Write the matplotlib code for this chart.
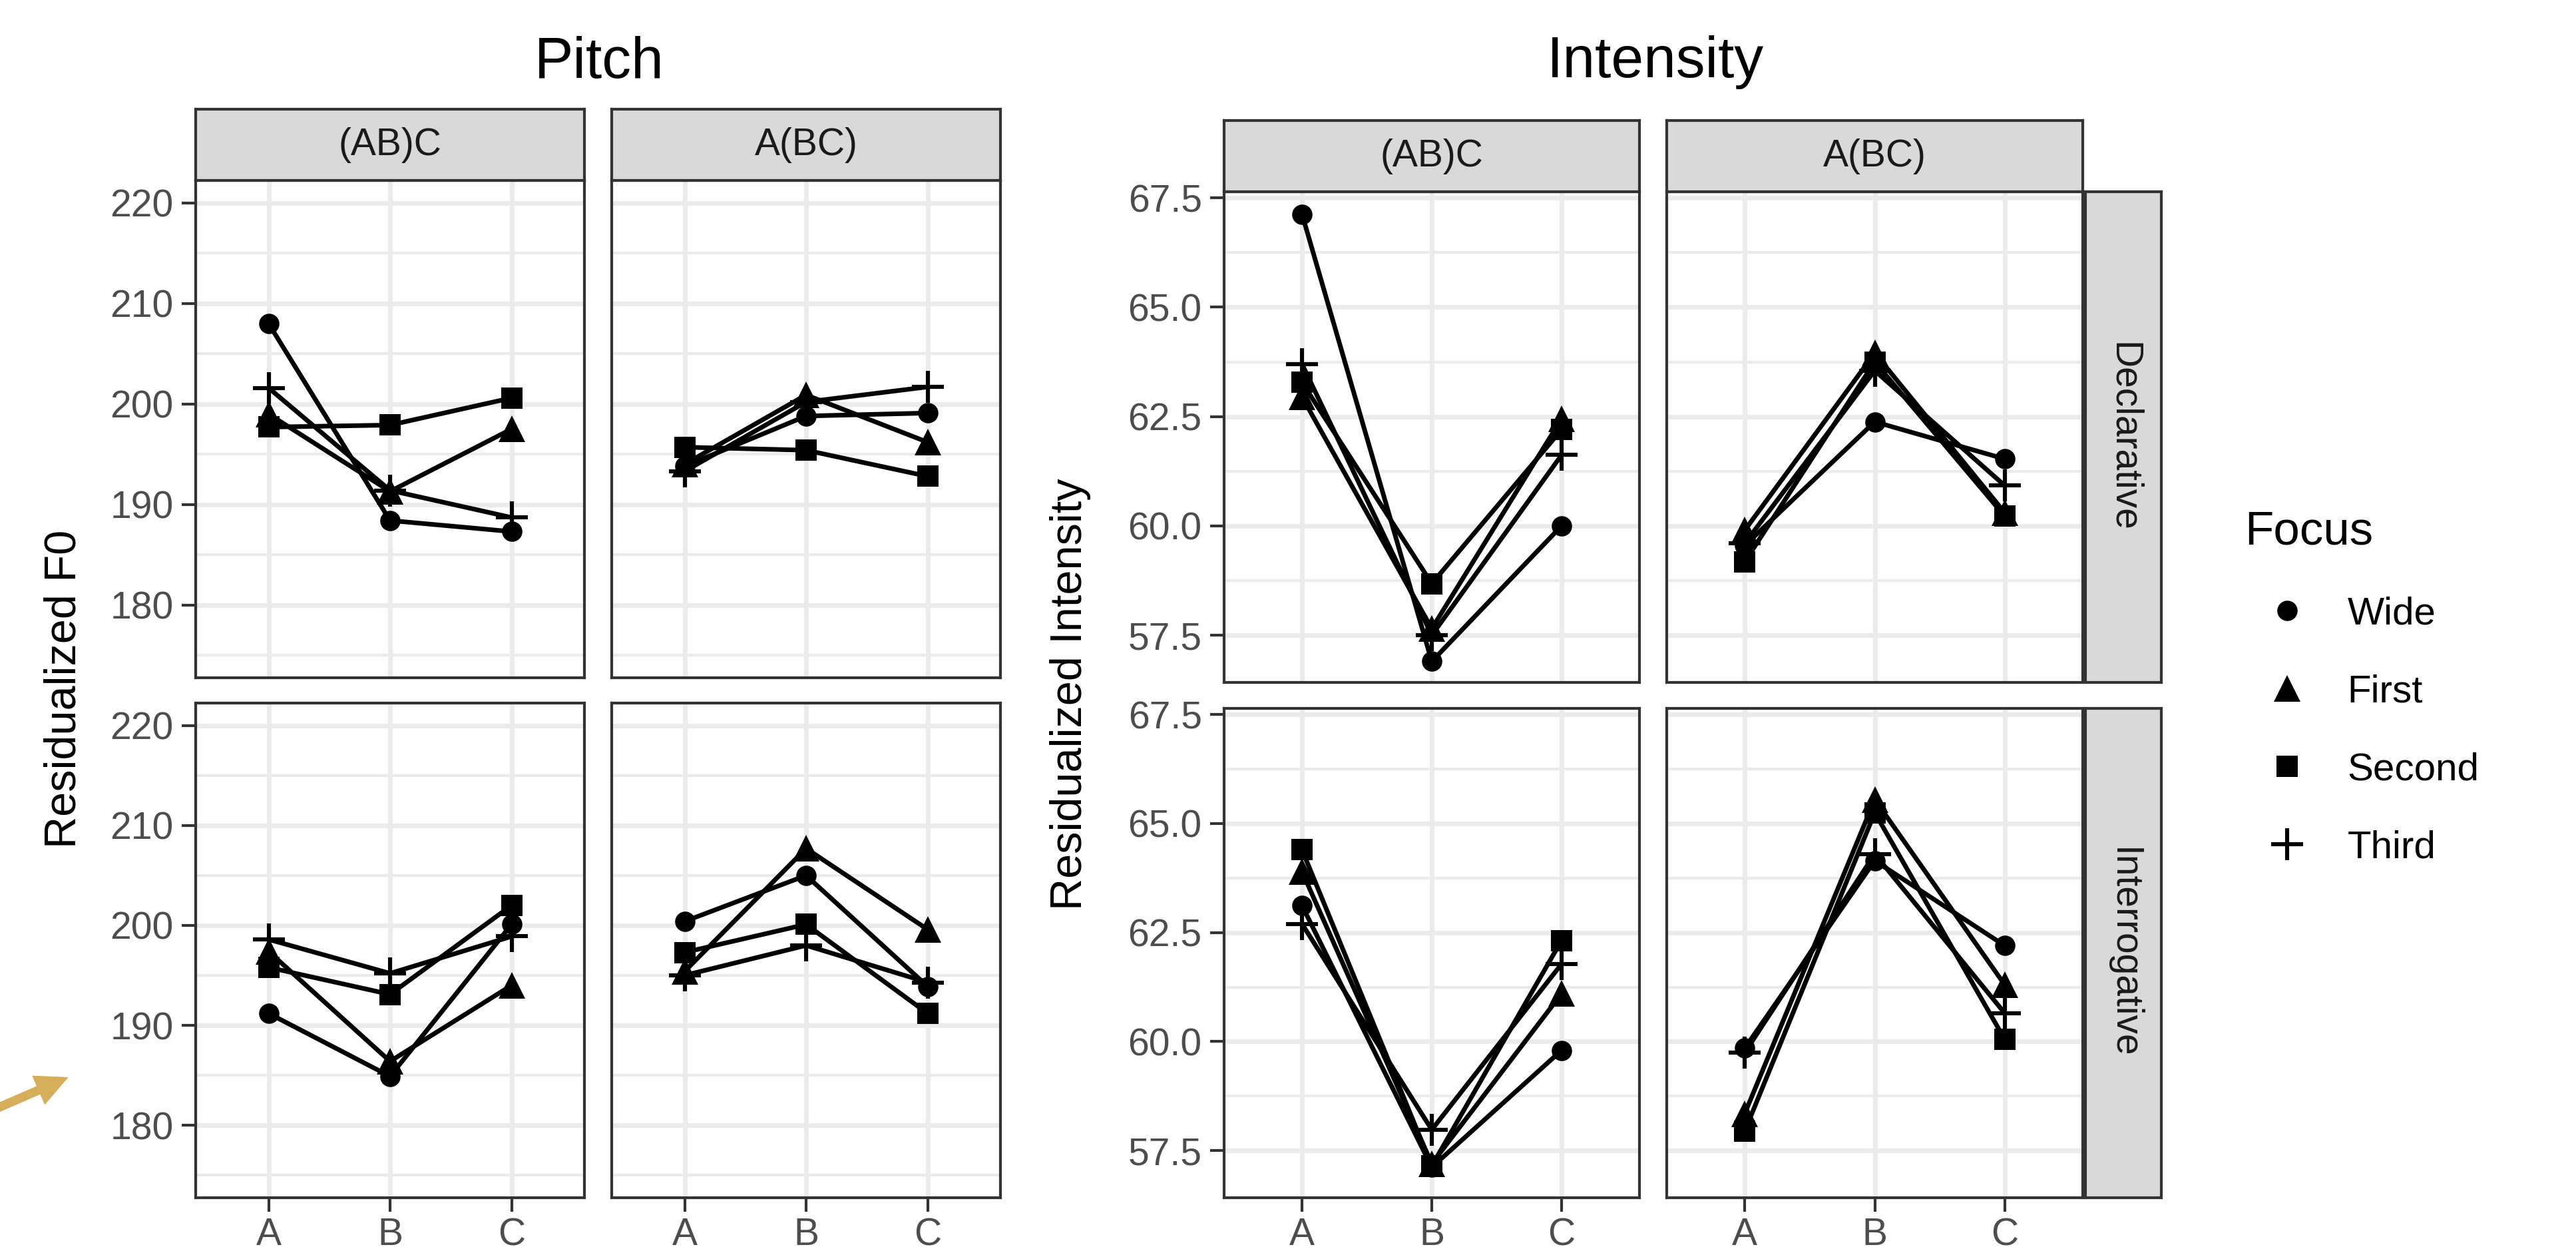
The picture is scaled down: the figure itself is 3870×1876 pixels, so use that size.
import matplotlib.pyplot as plt
from matplotlib.lines import Line2D
from matplotlib.ticker import MultipleLocator

plt.rcParams['font.family'] = ['Liberation Sans', 'DejaVu Sans']

W, H = 3870, 1876

positions = ['A', 'B', 'C']
structures = ['(AB)C', 'A(BC)']
sentence_types = ['Declarative', 'Interrogative']
focus_levels = ['Wide', 'First', 'Second', 'Third']

# residualized F0, values at A, B, C for each focus condition
pitch_decl_abc = {'Wide': [208.0, 188.4, 187.3], 'First': [199.0, 191.3, 197.5],
                  'Second': [197.7, 197.9, 200.6], 'Third': [201.6, 191.4, 188.7]}
pitch_decl_bc = {'Wide': [193.8, 198.8, 199.1], 'First': [194.0, 200.9, 196.2],
                 'Second': [195.7, 195.4, 192.8], 'Third': [193.3, 200.2, 201.7]}
pitch_int_abc = {'Wide': [191.2, 184.9, 200.1], 'First': [197.4, 186.4, 194.0],
                 'Second': [195.8, 193.1, 202.0], 'Third': [198.6, 195.2, 198.9]}
pitch_int_bc = {'Wide': [200.4, 205.0, 193.9], 'First': [195.4, 207.7, 199.6],
                'Second': [197.3, 200.1, 191.2], 'Third': [195.0, 198.0, 194.3]}

# residualized intensity
inten_decl_abc = {'Wide': [67.13, 56.90, 60.00], 'First': [62.95, 57.65, 62.45],
                  'Second': [63.28, 58.68, 62.20], 'Third': [63.70, 57.50, 61.62]}
inten_decl_bc = {'Wide': [59.55, 62.38, 61.53], 'First': [59.90, 63.95, 60.30],
                 'Second': [59.18, 63.75, 60.22], 'Third': [59.60, 63.55, 60.92]}
inten_int_abc = {'Wide': [63.12, 57.12, 59.80], 'First': [63.90, 57.20, 61.10],
                 'Second': [64.40, 57.15, 62.32], 'Third': [62.70, 57.98, 61.78]}
inten_int_bc = {'Wide': [59.85, 64.15, 62.20], 'First': [58.35, 65.55, 61.30],
                'Second': [57.95, 65.25, 60.05], 'Third': [59.75, 64.30, 60.65]}

pitch = [[pitch_decl_abc, pitch_decl_bc], [pitch_int_abc, pitch_int_bc]]
intensity = [[inten_decl_abc, inten_decl_bc], [inten_int_abc, inten_int_bc]]

marker_style = {
    'Wide': dict(marker='o', ms=22, mew=0),
    'First': dict(marker='^', ms=29, mew=0),
    'Second': dict(marker='s', ms=23, mew=0),
    'Third': dict(marker='+', ms=34, mew=4.4),
}

DARK = '#333333'
GRID = '#EBEBEB'
STRIP = '#D9D9D9'
TICK_FS = 41

fig = plt.figure(figsize=(W / 100, H / 100), dpi=100)


def px_rect(x0, y0, x1, y1):
    return [x0 / W, 1 - y1 / H, (x1 - x0) / W, (y1 - y0) / H]


def strip(x0, y0, x1, y1, label, rot=0):
    s = fig.add_axes(px_rect(x0, y0, x1, y1))
    s.set_facecolor(STRIP)
    s.set_xticks([])
    s.set_yticks([])
    for sp in s.spines.values():
        sp.set_color(DARK)
        sp.set_linewidth(3)
    s.text(0.5, 0.5, label, transform=s.transAxes, ha='center', va='center',
           fontsize=TICK_FS, color='#1A1A1A', rotation=rot)


def panel(rect, data, ylim, major, minor, show_x, show_y):
    ax = fig.add_axes(px_rect(*rect))
    xs = range(1, len(positions) + 1)
    for f in focus_levels:
        ax.plot(xs, data[f], color='black', lw=5, zorder=3,
                markerfacecolor='black', markeredgecolor='black', **marker_style[f])
    ax.set_xlim(0.4, 3.6)
    ax.set_ylim(*ylim)
    ax.set_xticks(list(xs))
    ax.set_xticklabels(positions if show_x else [])
    ax.yaxis.set_major_locator(MultipleLocator(major))
    ax.yaxis.set_minor_locator(MultipleLocator(minor))
    if not show_y:
        ax.set_yticklabels([])
    ax.grid(True, which='major', color=GRID, lw=5, zorder=0)
    ax.grid(True, which='minor', axis='y', color=GRID, lw=3, zorder=0)
    ax.set_axisbelow(True)
    ax.tick_params(which='minor', length=0)
    ax.tick_params(axis='x', length=15 if show_x else 0, width=3, color=DARK,
                   labelsize=TICK_FS, labelcolor='#4D4D4D', pad=6)
    ax.tick_params(axis='y', which='major', length=15 if show_y else 0, width=3,
                   color=DARK, labelsize=TICK_FS, labelcolor='#4D4D4D', pad=9)
    for sp in ax.spines.values():
        sp.set_color(DARK)
        sp.set_linewidth(3)
    return ax


# pitch block
pitch_cols = [(294, 878), (919, 1503)]
pitch_rows = [(271, 1018), (1056, 1799)]
for r in range(2):
    for c in range(2):
        panel((pitch_cols[c][0], pitch_rows[r][0], pitch_cols[c][1], pitch_rows[r][1]),
              pitch[r][c], (172.75, 222.25), 10, 5, r == 1, c == 0)
for c in range(2):
    strip(pitch_cols[c][0], 164, pitch_cols[c][1], 271, structures[c])
fig.text(900 / W, 1 - 94 / H, 'Pitch', ha='center', va='center', fontsize=63)
fig.text(96 / W, 1 - 1035 / H, 'Residualized F0', ha='center', va='center',
         rotation=90, fontsize=48)

# intensity block
int_cols = [(1839, 2463), (2504, 3129)]
int_rows = [(288, 1025), (1064, 1799)]
for r in range(2):
    for c in range(2):
        panel((int_cols[c][0], int_rows[r][0], int_cols[c][1], int_rows[r][1]),
              intensity[r][c], (56.42, 67.64), 2.5, 1.25, r == 1, c == 0)
for c in range(2):
    strip(int_cols[c][0], 181, int_cols[c][1], 288, structures[c])
for r in range(2):
    strip(3133, int_rows[r][0], 3247, int_rows[r][1], sentence_types[r], rot=-90)
fig.text(2487 / W, 1 - 94 / H, 'Intensity', ha='center', va='center', fontsize=63)
fig.text(1608 / W, 1 - 1043 / H, 'Residualized Intensity', ha='center', va='center',
         rotation=90, fontsize=48)

# legend
handles = [Line2D([], [], color='black', linestyle='none',
                  markerfacecolor='black', markeredgecolor='black', **marker_style[f])
           for f in focus_levels]
fig.legend(handles, focus_levels, title='Focus', loc='upper left',
           bbox_to_anchor=(3372 / W, 1 - 766 / H), frameon=False,
           fontsize=42, title_fontsize=51, alignment='left',
           handlelength=2.2, handletextpad=0.45, labelspacing=1.08,
           borderpad=0, borderaxespad=0)

# gold pointer arrow at lower left
fig.add_artist(plt.annotate('', xy=(105, H - 1617), xycoords='figure pixels',
                            xytext=(-40, H - 1680), textcoords='figure pixels',
                            arrowprops=dict(arrowstyle='simple,head_length=3.5,head_width=3.4,tail_width=0.95',
                                            mutation_scale=10, color='#D6AE5A', lw=0)))

fig.savefig('out.png', dpi=100)
